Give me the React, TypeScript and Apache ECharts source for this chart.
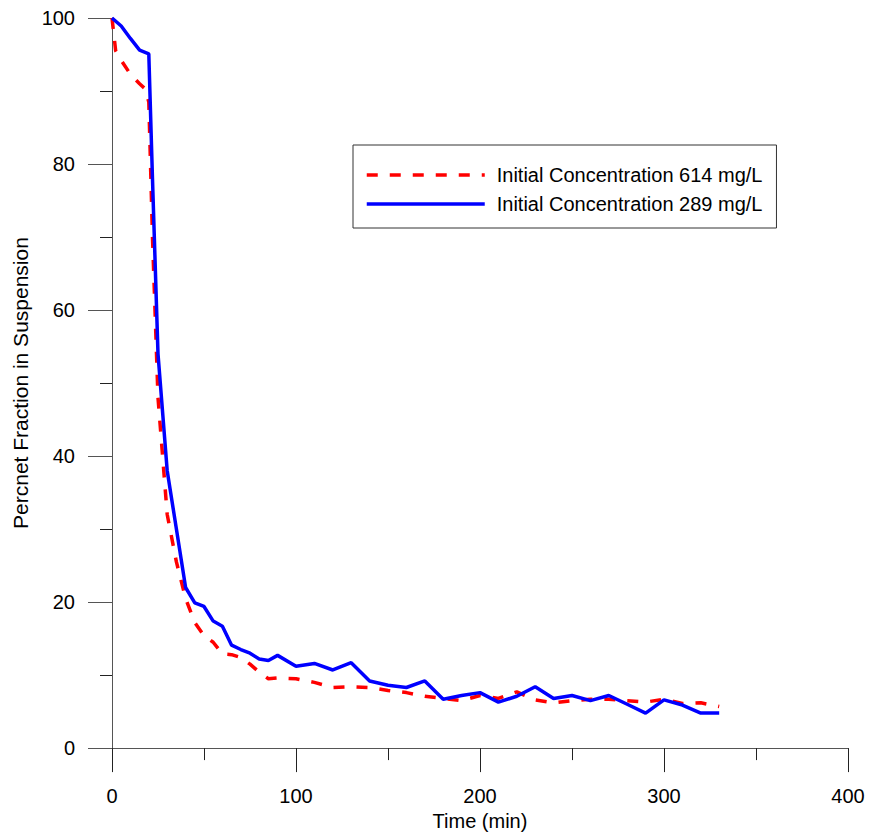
import React, { useEffect, useRef } from "react";
import * as echarts from "echarts";

const FONT = "'Liberation Sans', Arial, sans-serif";

const seriesNames = ["Initial Concentration 614 mg/L", "Initial Concentration 289 mg/L"];

// Initial concentration 614 mg/L: [time (min), percent]
const red614: [number, number][] = [
  [0, 100], [2, 95.5], [5, 94.2], [10, 92.3], [15, 91], [18, 90.3], [20, 88.5],
  [22, 70], [25, 48], [30, 32], [35, 25.5], [40, 20.5], [45, 17.2], [50, 15.4],
  [55, 14.5], [60, 12.9], [65, 12.8], [70, 12.4], [75, 11.5], [80, 10.4], [85, 9.5],
  [90, 9.6], [100, 9.5], [110, 9.0], [120, 8.3], [130, 8.4], [140, 8.3], [150, 7.9],
  [160, 7.6], [170, 7.1], [180, 6.8], [190, 6.5], [200, 7.2], [210, 6.8], [220, 7.7],
  [230, 6.6], [240, 6.2], [250, 6.5], [260, 6.7], [270, 6.7], [280, 6.5], [290, 6.3],
  [300, 6.7], [310, 6.1], [320, 6.2], [330, 5.7],
];

// Initial concentration 289 mg/L: [time (min), percent]
const blue289: [number, number][] = [
  [0, 100], [5, 98.9], [10, 97.2], [15, 95.6], [20, 95.1], [22, 78], [25, 54],
  [30, 38], [35, 30], [40, 22], [45, 19.9], [50, 19.4], [55, 17.4], [60, 16.7],
  [65, 14.1], [70, 13.5], [75, 13.0], [80, 12.2], [85, 12.0], [90, 12.7], [100, 11.2],
  [110, 11.6], [120, 10.7], [130, 11.7], [140, 9.2], [150, 8.6], [160, 8.3], [170, 9.2],
  [180, 6.7], [190, 7.2], [200, 7.6], [210, 6.3], [220, 7.1], [230, 8.4], [240, 6.8],
  [250, 7.2], [260, 6.5], [270, 7.2], [280, 6.0], [290, 4.8], [300, 6.6], [310, 5.9],
  [320, 4.8], [330, 4.8],
];

const xTitle = "Time (min)";
const yTitle = "Percnet Fraction in Suspension";

export default function App() {
  const ref = useRef<HTMLDivElement>(null);
  useEffect(() => {
    if (!ref.current) return;
    const chart = echarts.init(ref.current, undefined, { renderer: "svg" });
    const axisColor = "#555";
    chart.setOption({
      animation: false,
      backgroundColor: "#fff",
      textStyle: { fontFamily: FONT },
      grid: { left: 112, right: 22, top: 18, bottom: 83, containLabel: false },
      xAxis: {
        type: "value",
        min: 0,
        max: 400,
        interval: 100,
        name: xTitle,
        nameLocation: "middle",
        nameGap: 62,
        nameTextStyle: { fontSize: 20, color: "#000", fontFamily: FONT },
        axisLine: { show: true, onZero: false, lineStyle: { color: axisColor, width: 1 } },
        axisTick: { show: true, inside: false, length: 24, lineStyle: { color: "#222" } },
        minorTick: { show: true, splitNumber: 2, length: 12, lineStyle: { color: "#222" } },
        splitLine: { show: false },
        minorSplitLine: { show: false },
        axisLabel: { fontSize: 20, color: "#000", margin: 38, fontFamily: FONT },
      },
      yAxis: {
        type: "value",
        min: 0,
        max: 100,
        interval: 20,
        name: yTitle,
        nameLocation: "middle",
        nameGap: 80,
        nameTextStyle: { fontSize: 21, color: "#000", fontFamily: FONT },
        axisLine: { show: true, onZero: false, lineStyle: { color: axisColor, width: 1 } },
        axisTick: { show: true, inside: false, length: 24, lineStyle: { color: axisColor } },
        minorTick: { show: true, splitNumber: 2, length: 12, lineStyle: { color: "#222" } },
        splitLine: { show: false },
        minorSplitLine: { show: false },
        axisLabel: { fontSize: 20, color: "#000", margin: 37, fontFamily: FONT },
      },
      legend: {
        orient: "vertical",
        left: 353,
        top: 145,
        padding: [20, 14, 14, 12],
        borderColor: "#333",
        borderWidth: 1,
        itemWidth: 118,
        itemHeight: 20,
        itemGap: 9,
        itemStyle: { opacity: 0 },
        lineStyle: { width: 3.5 },
        textStyle: { fontSize: 20, color: "#000", fontFamily: FONT, padding: [0, 0, 0, 7] },
        data: seriesNames,
      },
      series: [
        {
          name: seriesNames[0],
          type: "line",
          data: red614,
          symbol: "none",
          showSymbol: false,
          color: "#ff0000",
          lineStyle: { color: "#ff0000", width: 3.5, type: [11, 12] },
          z: 2,
        },
        {
          name: seriesNames[1],
          type: "line",
          data: blue289,
          symbol: "none",
          showSymbol: false,
          color: "#0000ff",
          lineStyle: { color: "#0000ff", width: 3.5, type: "solid" },
          z: 3,
        },
      ],
    });
    return () => chart.dispose();
  }, []);
  return (
    <div
      ref={ref}
      style={{ position: "fixed", left: 0, top: 0, width: 870, height: 836, background: "#fff" }}
    />
  );
}
